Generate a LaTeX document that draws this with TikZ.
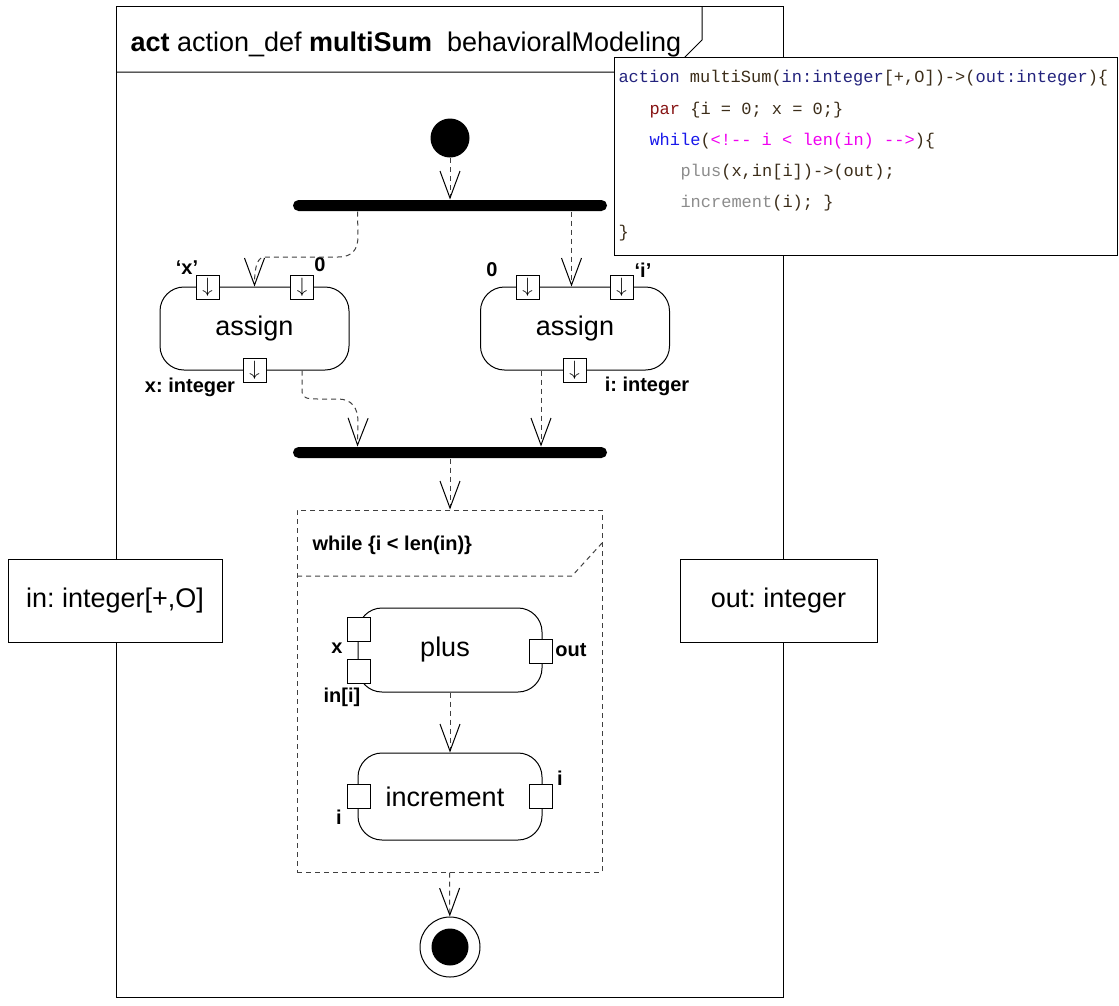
\documentclass[tikz,border=0pt]{standalone}
\usepackage{fontspec}
\setmainfont{Liberation Sans}
\newfontfamily\codefont{Liberation Mono}
\usetikzlibrary{arrows.meta}
\frenchspacing

\definecolor{marine}{RGB}{35,35,125}
\definecolor{brun}{RGB}{60,45,25}
\definecolor{rouge}{RGB}{135,20,20}
\definecolor{bleu}{RGB}{25,25,235}
\definecolor{rose}{RGB}{240,0,240}
\definecolor{grisc}{RGB}{140,140,140}

\tikzset{action/.style = {draw, rounded corners=24pt, minimum width=#1, minimum height=83pt,
                          inner sep=0pt, font=\fontsize{27}{32}\selectfont},
         action/.default=189pt,
         broche/.style = {draw, fill=white, minimum width=23pt, minimum height=24pt,
                          inner sep=0pt, font=\fontsize{20}{20}\selectfont},
         barre/.style = {fill=black, rounded corners=5.5pt, minimum width=314pt,
                         minimum height=11pt, inner sep=0pt},
         tirets/.style = {draw=black!75, dash pattern=on 5pt off 4pt},
         flot/.style = {tirets, -{Straight Barb[length=27pt, width=20pt, black]}},
         etiq/.style = {inner sep=0pt, font=\bfseries\fontsize{20}{24}\selectfont},
         boite/.style = {draw, fill=white, minimum width=#1, minimum height=83pt,
                         inner sep=0pt, font=\fontsize{27}{32}\selectfont},
         ligne/.style = {anchor=base west, inner sep=0pt, text=brun,
                         font=\codefont\fontsize{17}{20}\selectfont}
        }

\begin{document}
\begin{tikzpicture}[x=1pt, y=-1pt, line width=1pt]
  \useasboundingbox (0,0) rectangle (1119,1005);

  % cadre et titre
  \draw (116,6) rectangle (783,997);
  \draw (702,6) -- (702,40) -- (670,72) -- (116,72);
  \node[anchor=base west, inner sep=0pt, font=\fontsize{27}{32}\selectfont] (titre) at (130,51)
       {\textbf{act} action\_def \textbf{multiSum}\ \ behavioralModeling};

  % texte du code
  \node[draw, fill=white, minimum width=503pt, minimum height=198pt, inner sep=0pt] (code) at (865.5,156) {};
  \node[ligne] (c1) at (618,82) {\textcolor{marine}{action} multiSum(\textcolor{marine}{in:integer}[+,O])-{}>(\textcolor{marine}{out:integer})\{};
  \node[ligne] (c2) at (649,114) {\textcolor{rouge}{par} \{i = 0; x = 0;\}};
  \node[ligne] (c3) at (649,145) {\textcolor{bleu}{while}(\textcolor{rose}{<!-{}- i < len(in) -{}->})\{};
  \node[ligne] (c4) at (680,176) {\textcolor{grisc}{plus}(x,in[i])-{}>(out);};
  \node[ligne] (c5) at (680,207) {\textcolor{grisc}{increment}(i); \}};
  \node[ligne] (c6) at (618,237) {\}};

  % parametres
  \node[boite=214pt] (entree) at (115,600.5) {in: integer[+,O]};
  \node[boite=197pt] (sortie) at (778.5,600.5) {out: integer};

  % debut et fourche
  \node[circle, fill=black, minimum size=39pt, inner sep=0pt] (debut) at (450,138) {};
  \node[barre] (fourche) at (450,205.5) {};

  % les deux assign
  \node[action] (assignx) at (254.5,328.5) {assign};
  \node[action] (assigni) at (575,328.5) {assign};
  \node[broche] (bx1) at (207.5,287) {$\downarrow$};
  \node[broche] (bx2) at (302,287) {$\downarrow$};
  \node[broche] (bx3) at (254.5,370) {$\downarrow$};
  \node[broche] (bi1) at (527.5,287) {$\downarrow$};
  \node[broche] (bi2) at (621.5,287) {$\downarrow$};
  \node[broche] (bi3) at (574.5,370) {$\downarrow$};
  \node[etiq] (lx) at (187,268) {‘x’};
  \node[etiq] (l0x) at (320,265) {0};
  \node[etiq] (lxi) at (190,387) {x: integer};
  \node[etiq] (l0i) at (492,270) {0};
  \node[etiq] (li) at (643,270) {‘i’};
  \node[etiq] (lii) at (647,386) {i: integer};

  \node[barre] (jonction) at (450,452.5) {};

  % boucle while
  \node[tirets, minimum width=305pt, minimum height=362pt, inner sep=0pt] (boucle) at (449.5,691) {};
  \draw[tirets] (297,576) -- (572,576) -- (602,543);
  \node[etiq, anchor=west] (cond) at (312,545) {while \{i < len(in)\}};

  \node[action=184pt, minimum height=84pt] (plus) at (450,650) {\hspace*{-10pt}plus};
  \node[broche] (px) at (358.5,629.5) {};
  \node[broche] (pi) at (358.5,671) {};
  \node[broche] (pout) at (541,651) {};
  \node[etiq] (lpx) at (337,648) {x};
  \node[etiq] (lpi) at (342,697) {in[i]};
  \node[etiq] (lpo) at (571,650) {out};

  \node[action=184pt, minimum height=87pt] (incr) at (450,796.5) {\hspace*{-10pt}increment};
  \node[broche] (ig) at (358.5,796.5) {};
  \node[broche] (id) at (541,796.5) {};
  \node[etiq] (lig) at (339,817) {i};
  \node[etiq] (lid) at (560,778) {i};

  % fin
  \node[circle, draw, minimum size=60pt, inner sep=0pt] (fin) at (450,947) {};
  \node[circle, fill=black, minimum size=37pt, inner sep=0pt] (finp) at (fin) {};

  % flots
  \coordinate (f1) at ([xshift=65pt]fourche.south west);
  \coordinate (f2) at ([xshift=279pt]fourche.south west);
  \coordinate (sx) at ([xshift=47.5pt]assignx.south);
  \coordinate (si) at ([xshift=-34pt]assigni.south);
  \coordinate (j1) at ([xshift=65pt]jonction.north west);
  \draw[flot] (debut) -- (fourche);
  \draw[flot] (f1) -- (358,236) .. controls (358,250) and (352,257) .. (338,257)
              -- (265,257) .. controls (258,257) and (254.5,265) .. (assignx.north);
  \draw[flot] (f2) -- (f2 |- assigni.north);
  \draw[flot] (sx) -- (302,390) .. controls (302,398) and (306,399) .. (318,399)
              -- (338,399) .. controls (352,399) and (358,408) .. (358,422) -- (j1);
  \draw[flot] (si) -- (si |- jonction.north);
  \draw[flot] (jonction.south) -- (jonction.south |- boucle.north);
  \draw[flot] (plus.south) -- (plus.south |- incr.north);
  \draw[flot] (boucle.south) -- (fin);
\end{tikzpicture}
\end{document}
